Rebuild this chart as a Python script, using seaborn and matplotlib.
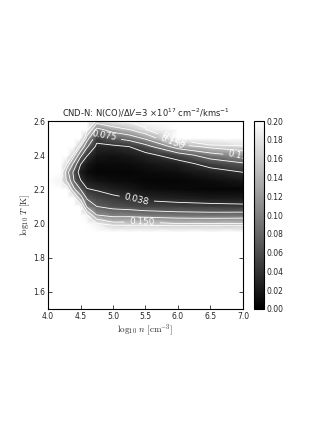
import numpy as np
import matplotlib
matplotlib.use("Agg")
import matplotlib.pyplot as plt
import seaborn as sns

# grid of the model (log10 n, log10 T)
log_n = [4.0, 4.2, 4.3, 4.4, 4.5, 4.6, 4.75, 5.0, 5.25, 5.5, 6.0, 6.5, 7.0]
log_T = [1.90, 1.95, 2.00, 2.05, 2.10, 2.15, 2.20, 2.25, 2.30, 2.35, 2.40, 2.45, 2.50, 2.55, 2.60]

# one column of values per log_n, from log_T = 1.90 up to 2.60
col_400 = [0.5, 0.5, 0.5, 0.5, 0.5, 0.5, 0.5, 0.5, 0.5, 0.5, 0.5, 0.5, 0.5, 0.5, 0.5]
col_420 = [0.5, 0.5, 0.5, 0.5, 0.5, 0.5, 0.30, 0.19, 0.21, 0.40, 0.5, 0.5, 0.5, 0.5, 0.5]
col_430 = [0.5, 0.5, 0.5, 0.5, 0.5, 0.40, 0.20, 0.14, 0.12, 0.17, 0.30, 0.5, 0.5, 0.5, 0.5]
col_440 = [0.5, 0.5, 0.5, 0.5, 0.40, 0.20, 0.12, 0.075, 0.065, 0.10, 0.16, 0.30, 0.5, 0.5, 0.5]
col_450 = [0.5, 0.5, 0.5, 0.40, 0.21, 0.13, 0.075, 0.04, 0.022, 0.04, 0.085, 0.15, 0.28, 0.5, 0.5]
col_460 = [0.5, 0.5, 0.5, 0.19, 0.105, 0.07, 0.04, 0.022, 0.01, 0.02, 0.04, 0.08, 0.13, 0.20, 0.40]
col_475 = [0.5, 0.5, 0.19, 0.112, 0.075, 0.055, 0.035, 0.015, 0.005, 0.008, 0.018, 0.03, 0.05, 0.10, 0.17]
col_500 = [0.5, 0.30, 0.16, 0.10, 0.065, 0.045, 0.025, 0.01, 0.005, 0.008, 0.015, 0.03, 0.075, 0.13, 0.19]
col_525 = [0.5, 0.30, 0.16, 0.10, 0.06, 0.038, 0.02, 0.008, 0.005, 0.01, 0.02, 0.038, 0.09, 0.15, 0.195]
col_550 = [0.5, 0.30, 0.16, 0.095, 0.055, 0.03, 0.012, 0.005, 0.008, 0.015, 0.028, 0.06, 0.12, 0.18, 0.21]
col_600 = [0.5, 0.30, 0.15, 0.09, 0.05, 0.025, 0.008, 0.005, 0.012, 0.025, 0.055, 0.13, 0.21, 0.5, 0.5]
col_650 = [0.5, 0.30, 0.15, 0.088, 0.048, 0.02, 0.005, 0.01, 0.025, 0.05, 0.095, 0.16, 0.30, 0.5, 0.5]
col_700 = [0.5, 0.30, 0.15, 0.09, 0.045, 0.02, 0.005, 0.018, 0.038, 0.07, 0.12, 0.175, 0.30, 0.5, 0.5]

contour_levels = [0.038, 0.075, 0.112, 0.150, 0.188]
cbar_ticks = [0.00, 0.02, 0.04, 0.06, 0.08, 0.10, 0.12, 0.14, 0.16, 0.18, 0.20]

sns.set_style("ticks", {"xtick.direction": "in", "ytick.direction": "in",
                        "axes.edgecolor": "black"})
plt.rcParams["font.family"] = ["DejaVu Sans"]

chi = np.array([col_400, col_420, col_430, col_440, col_450, col_460, col_475,
                col_500, col_525, col_550, col_600, col_650, col_700]).T

fig = plt.figure(figsize=(3.32, 4.30), dpi=100)
ax = fig.add_axes([0.1446, 0.2814, 0.5873, 0.4372])
cax = fig.add_axes([0.765, 0.2814, 0.030, 0.4372])

mesh = ax.pcolormesh(log_n, log_T, chi, cmap="gray", vmin=0.0, vmax=0.2,
                     shading="gouraud")
cs = ax.contour(log_n, log_T, chi, levels=contour_levels, colors="white",
                linewidths=0.6)
# label spots chosen to sit where the original figure put them
spots = [(4.88, 2.52), (5.35, 2.13), (5.9, 2.47), (5.95, 2.50), (6.97, 2.40), (5.45, 2.0)]
labels = ax.clabel(cs, fmt="%.3f", fontsize=6.4, colors="white", inline=True,
                   manual=spots)
for t in labels:
    t.set_clip_on(True)

ax.set_xlim(4.0, 7.0)
ax.set_ylim(1.5, 2.6)
ax.set_xticks([4.0, 4.5, 5.0, 5.5, 6.0, 6.5, 7.0])
ax.set_yticks([1.6, 1.8, 2.0, 2.2, 2.4, 2.6])
ax.tick_params(labelsize=5.5, top=True, right=True, length=3, width=0.6, pad=2)
for s in ax.spines.values():
    s.set_linewidth(0.8)

ax.set_xlabel(r"$\log_{10}\,n\ [\mathrm{cm}^{-3}]$", fontsize=6.5,
              math_fontfamily="cm", labelpad=1)
ax.set_ylabel(r"$\log_{10}\,T\ [\mathrm{K}]$", fontsize=6.5,
              math_fontfamily="cm", labelpad=1)
ax.set_title(r"CND-N: N(CO)/$\Delta V$=3 $\times 10^{17}$ cm$^{-2}$/kms$^{-1}$",
             fontsize=6.0, pad=3)

cb = fig.colorbar(mesh, cax=cax, ticks=cbar_ticks)
cb.ax.set_yticklabels(["%.2f" % t for t in cbar_ticks])
cb.ax.tick_params(labelsize=5.5, direction="in", length=3, width=0.6, pad=2)
cb.outline.set_linewidth(0.8)

fig.savefig("out.png", dpi=100)
